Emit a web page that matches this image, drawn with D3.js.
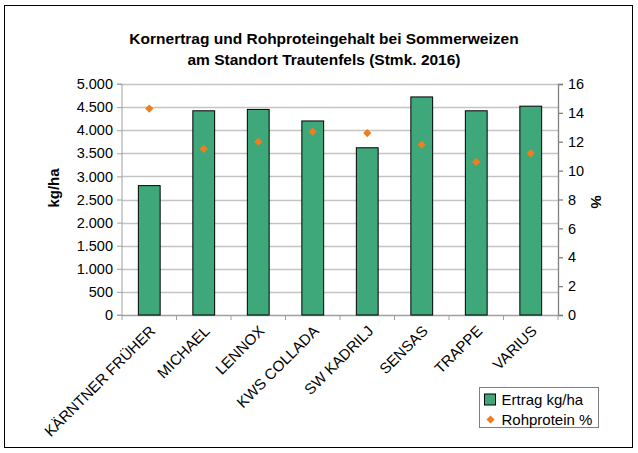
<!DOCTYPE html>
<html>
<head>
<meta charset="utf-8">
<script src="https://cdn.jsdelivr.net/npm/d3@7"></script>
<style>
  body { margin: 0; background: #fff; }
  text { font-family: "Liberation Sans", Arial, sans-serif; fill: #000; }
</style>
</head>
<body>
<div class="chart"></div>
<script>
// data
var sorten = ["KÄRNTNER FRÜHER", "MICHAEL", "LENNOX", "KWS COLLADA", "SW KADRILJ", "SENSAS", "TRAPPE", "VARIUS"];
var ertrag = [2800, 4420, 4450, 4200, 3620, 4720, 4420, 4520];
var rohprotein = [14.3, 11.5, 12.0, 12.7, 12.6, 11.8, 10.6, 11.2];
var ertragTicks = [0, 500, 1000, 1500, 2000, 2500, 3000, 3500, 4000, 4500, 5000];
var proteinTicks = [0, 2, 4, 6, 8, 10, 12, 14, 16];

var W = 638, H = 453;
var margin = {top: 84, right: 80, bottom: 138, left: 122},
  width = W - margin.left - margin.right,
  height = H - margin.top - margin.bottom;

var svg = d3.select(".chart")
.append("svg")
  .attr("width", W)
  .attr("height", H);

// outer frame
svg.append("rect")
  .attr("x", 4.5).attr("y", 5.5)
  .attr("width", 628).attr("height", 442)
  .attr("fill", "white")
  .attr("stroke", "black")
  .attr("stroke-width", 1);

// title
var title = svg.append("text")
  .attr("text-anchor", "middle")
  .attr("font-size", 15.5)
  .attr("font-weight", "bold");
title.append("tspan").attr("x", 324).attr("y", 44).text("Kornertrag und Rohproteingehalt bei Sommerweizen");
title.append("tspan").attr("x", 324).attr("y", 65).text("am Standort Trautenfels (Stmk. 2016)");

var g = svg.append("g")
  .attr("transform", "translate(" + margin.left + "," + margin.top + ")");

var x = d3.scaleBand()
  .domain(sorten)
  .range([0, width])
  .paddingInner(0.6)
  .paddingOuter(0.3);

var xBound = d3.scaleLinear().domain([0, sorten.length]).range([0, width]);

var y = d3.scaleLinear().domain([0, 5000]).range([height, 0]);
var y2 = d3.scaleLinear().domain([0, 16]).range([height, 0]);

var fmt = function(d) { return d3.format(",")(d).replace(/,/g, "."); };

// gridlines
g.selectAll(".grid")
  .data(ertragTicks.slice(1))
  .enter().append("line")
    .attr("x1", 0).attr("x2", width)
    .attr("y1", function(d) { return Math.round(y(d)) + 0.5; })
    .attr("y2", function(d) { return Math.round(y(d)) + 0.5; })
    .attr("stroke", "#c4c4c4")
    .attr("stroke-width", 1.3);

// left axis
var yAxis = d3.axisLeft(y)
  .tickValues(ertragTicks)
  .tickFormat(fmt)
  .tickSize(5)
  .tickPadding(4);

var gy = g.append("g").call(yAxis);
gy.select(".domain").attr("stroke", "#a0a0a0").attr("d", "M-5," + height + "H0V0H-5");
gy.selectAll(".tick line").attr("stroke", "#a0a0a0");
gy.selectAll("text").attr("font-size", 14.5);

// right axis
var yAxis2 = d3.axisRight(y2)
  .tickValues(proteinTicks)
  .tickSize(5)
  .tickPadding(5);

var gy2 = g.append("g")
  .attr("transform", "translate(" + width + ",0)")
  .call(yAxis2);
gy2.select(".domain").attr("stroke", "#808080").attr("stroke-width", 1.3);
gy2.selectAll(".tick line").attr("stroke", "#808080").attr("stroke-width", 1.3);
gy2.selectAll("text").attr("font-size", 14.5);

// bottom axis line with ticks between categories
g.append("line")
  .attr("x1", 0).attr("x2", width)
  .attr("y1", height + 0.5).attr("y2", height + 0.5)
  .attr("stroke", "#a0a0a0")
  .attr("stroke-width", 1.3);

g.selectAll(".xtick")
  .data(d3.range(sorten.length + 1))
  .enter().append("line")
    .attr("x1", function(d) { return xBound(d); })
    .attr("x2", function(d) { return xBound(d); })
    .attr("y1", height).attr("y2", height + 5)
    .attr("stroke", "#a0a0a0");

// bars
g.selectAll(".bar")
  .data(ertrag)
  .enter().append("rect")
    .attr("x", function(d, i) { return x(sorten[i]); })
    .attr("y", function(d) { return y(d); })
    .attr("width", x.bandwidth())
    .attr("height", function(d) { return height - y(d); })
    .attr("fill", "#3fa87a")
    .attr("stroke", "black")
    .attr("stroke-width", 1);

// protein points (square turned 45 degrees)
var diamond = d3.symbol().type(d3.symbolSquare).size(34);
g.selectAll(".pt")
  .data(rohprotein)
  .enter().append("path")
    .attr("d", diamond)
    .attr("transform", function(d, i) {
      return "translate(" + (x(sorten[i]) + x.bandwidth() / 2) + "," + y2(d) + ") rotate(45)";
    })
    .attr("fill", "#f07d1e");

// category labels
g.selectAll(".cat")
  .data(sorten)
  .enter().append("text")
    .attr("text-anchor", "end")
    .attr("font-size", 15)
    .attr("transform", function(d) {
      return "translate(" + (x(d) + x.bandwidth() / 2 + 7) + "," + (height + 17) + ") rotate(-45)";
    })
    .text(function(d) { return d; });

// axis titles
svg.append("text")
  .attr("transform", "translate(59,188) rotate(-90)")
  .attr("text-anchor", "middle")
  .attr("font-size", 15)
  .attr("font-weight", "bold")
  .text("kg/ha");

svg.append("text")
  .attr("transform", "translate(591,202) rotate(90)")
  .attr("text-anchor", "middle")
  .attr("font-size", 15)
  .attr("font-weight", "bold")
  .text("%");

// legend
var leg = svg.append("g").attr("transform", "translate(479.5,387.5)");
leg.append("rect")
  .attr("width", 119).attr("height", 40)
  .attr("fill", "white")
  .attr("stroke", "#808080");
leg.append("rect")
  .attr("x", 5).attr("y", 6.5).attr("width", 11).attr("height", 11)
  .attr("fill", "#3fa87a").attr("stroke", "black");
leg.append("text").attr("x", 22).attr("y", 17).attr("font-size", 15).text("Ertrag kg/ha");
leg.append("path")
  .attr("d", diamond)
  .attr("transform", "translate(11,32) rotate(45)")
  .attr("fill", "#f07d1e");
leg.append("text").attr("x", 22).attr("y", 37.5).attr("font-size", 15).text("Rohprotein %");
</script>
</body>
</html>
